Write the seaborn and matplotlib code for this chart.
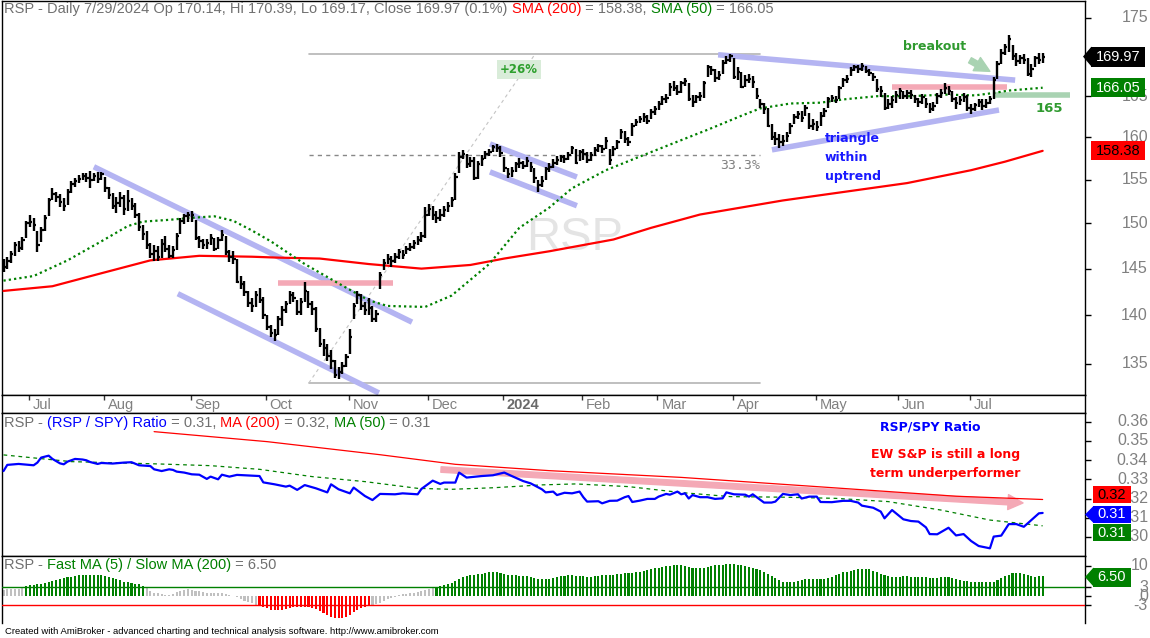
import numpy as np
import pandas as pd
import matplotlib
matplotlib.use("Agg")
import matplotlib.pyplot as plt
import matplotlib.transforms as mtransforms
from matplotlib.patches import Rectangle, Polygon
from matplotlib.ticker import FixedLocator, NullLocator, NullFormatter
from matplotlib.offsetbox import TextArea, HPacker, AnchoredOffsetbox
import seaborn as sns

# ---------------------------------------------------------------- calendar
holidays = ["2023-07-04", "2023-09-04", "2023-11-23", "2023-12-25", "2024-01-01",
            "2024-01-15", "2024-02-19", "2024-03-29", "2024-05-27", "2024-06-19",
            "2024-07-04"]
dates = pd.bdate_range("2023-06-22", "2024-07-29")
dates = dates[~dates.isin(pd.to_datetime(holidays))]

# ---------------------------------------------------------------- RSP daily bars (close / high / low)
close_jun23 = [145.2, 145.8, 146.6, 147.6, 147.3, 148.2, 150.0]
high_jun23 = [146.0, 146.3, 146.9, 147.9, 148.0, 148.5, 150.3]
low_jun23 = [144.6, 145.0, 145.6, 146.4, 146.8, 147.0, 148.4]

close_jul23 = [150.2, 149.8, 147.6, 149.3, 150.6, 152.6, 153.3, 153.0, 152.4, 152.0,
               153.6, 154.5, 154.8, 155.1, 155.4, 155.2, 155.0, 155.4, 155.1, 155.6]
high_jul23 = [150.9, 150.6, 149.2, 149.6, 151.0, 152.9, 154.0, 153.6, 153.3, 152.9,
              153.9, 154.8, 155.2, 155.5, 155.8, 155.8, 156.0, 155.8, 155.9, 155.9]
low_jul23 = [149.6, 149.2, 146.8, 147.9, 149.2, 150.8, 152.6, 152.4, 151.8, 151.4,
             152.1, 153.5, 154.2, 154.6, 154.9, 154.7, 154.0, 154.8, 154.6, 155.0]

close_aug23 = [154.0, 153.2, 152.0, 152.3, 152.9, 151.6, 152.5, 152.0, 151.0, 149.6,
               148.8, 147.6, 146.6, 146.9, 146.3, 147.7, 147.2, 146.4, 147.0, 148.6,
               150.3, 150.8, 151.0]
high_aug23 = [155.3, 154.2, 153.4, 153.0, 153.6, 153.2, 153.8, 152.9, 152.3, 151.2,
              149.8, 149.2, 147.8, 147.6, 147.5, 148.3, 148.6, 147.6, 147.5, 148.9,
              150.6, 151.1, 151.3]
low_aug23 = [153.6, 152.8, 151.6, 151.2, 151.8, 151.0, 151.4, 151.5, 150.6, 149.2,
             148.2, 147.2, 146.2, 145.8, 145.8, 146.2, 146.8, 146.2, 146.2, 147.0,
             148.8, 149.9, 150.2]

close_sep23 = [151.0, 148.4, 148.0, 147.6, 147.8, 148.4, 147.2, 148.2, 148.7, 146.8,
               146.3, 146.0, 143.6, 143.3, 142.5, 141.3, 141.0, 142.2, 141.6, 140.0]
high_sep23 = [151.4, 150.4, 148.6, 148.3, 148.3, 148.8, 148.4, 148.5, 149.3, 148.6,
              147.0, 146.9, 146.1, 144.2, 143.7, 142.6, 141.8, 142.6, 142.9, 141.9]
low_sep23 = [150.2, 148.1, 147.3, 147.1, 147.2, 147.6, 146.9, 147.1, 148.0, 146.5,
             145.7, 145.5, 143.4, 142.8, 142.1, 140.9, 140.4, 140.9, 141.3, 139.6]

close_oct23 = [138.8, 138.2, 138.0, 139.6, 140.6, 141.2, 142.2, 141.8, 140.4, 141.4,
               142.6, 141.2, 140.7, 138.6, 137.0, 136.6, 135.8, 135.3, 133.9, 134.2,
               134.8, 135.7]
high_oct23 = [140.0, 139.0, 138.6, 139.9, 141.0, 141.5, 142.6, 142.5, 141.6, 141.8,
              143.6, 142.6, 141.5, 140.9, 138.7, 137.6, 137.0, 136.4, 135.4, 134.7,
              135.2, 136.0]
low_oct23 = [138.5, 137.8, 137.3, 138.0, 138.9, 140.3, 141.2, 141.4, 140.0, 140.0,
             141.4, 140.8, 140.1, 138.3, 136.7, 135.8, 135.3, 134.5, 133.6, 133.5,
             134.0, 134.7]

close_nov23 = [137.8, 141.0, 142.2, 141.0, 140.6, 140.8, 139.6, 140.2, 144.3, 145.6,
               146.0, 145.8, 146.3, 146.8, 146.5, 147.2, 147.4, 147.8, 148.2, 148.6,
               151.0]
high_nov23 = [138.6, 141.3, 142.6, 142.3, 141.4, 141.8, 141.0, 140.6, 144.6, 146.0,
              146.6, 146.4, 146.7, 147.1, 147.0, 147.5, 147.8, 148.1, 148.6, 149.0,
              151.8]
low_nov23 = [136.0, 139.6, 141.2, 140.6, 140.0, 140.1, 139.3, 139.3, 142.8, 144.8,
             145.5, 145.2, 145.6, 146.1, 146.1, 146.6, 146.9, 147.2, 147.6, 147.9,
             148.4]

close_dec23 = [151.6, 151.0, 150.6, 150.9, 151.5, 152.0, 152.6, 155.3, 157.6, 158.0,
               156.8, 157.2, 155.2, 156.8, 157.4, 158.0, 158.3, 158.8, 158.7, 158.1]
high_dec23 = [152.2, 152.0, 151.4, 151.6, 152.0, 152.4, 153.0, 155.8, 158.2, 158.5,
              158.0, 157.6, 157.6, 157.2, 157.9, 158.4, 158.6, 159.1, 159.2, 159.0]
low_dec23 = [150.8, 150.4, 150.1, 150.3, 150.7, 151.3, 151.9, 152.6, 155.8, 157.4,
             156.4, 156.5, 154.9, 155.1, 156.6, 157.4, 157.8, 158.2, 158.3, 157.6]

close_jan24 = [156.4, 155.6, 156.0, 156.8, 157.0, 156.6, 157.2, 156.5, 155.2, 154.4,
               154.8, 156.2, 156.5, 157.0, 157.3, 157.6, 157.4, 157.9, 158.7, 157.0,
               158.2]
high_jan24 = [157.6, 156.4, 156.5, 157.1, 157.5, 157.2, 157.6, 157.1, 156.3, 155.0,
              155.4, 156.5, 157.0, 157.4, 157.8, 157.9, 157.9, 158.3, 159.0, 158.6,
              158.5]
low_jan24 = [155.9, 155.2, 155.3, 155.9, 156.4, 156.2, 156.5, 155.9, 154.6, 153.6,
             154.1, 155.0, 155.9, 156.3, 156.7, 157.1, 156.9, 157.3, 158.0, 156.8,
             157.2]

close_feb24 = [158.0, 157.3, 157.9, 158.5, 158.9, 158.6, 159.6, 157.3, 158.6, 159.4,
               160.6, 159.8, 159.4, 161.4, 161.9, 162.2, 162.5, 162.0, 163.0, 163.4]
high_feb24 = [158.6, 158.3, 158.2, 158.8, 159.2, 159.1, 160.0, 158.6, 158.9, 159.7,
              161.0, 160.7, 160.0, 161.7, 162.2, 162.6, 162.9, 162.7, 163.4, 163.8]
low_feb24 = [157.3, 156.9, 157.2, 157.8, 158.3, 158.1, 158.6, 156.7, 157.8, 158.6,
             159.8, 159.3, 158.9, 160.2, 161.3, 161.7, 161.9, 161.6, 162.2, 162.7]

close_mar24 = [164.0, 164.6, 164.8, 166.2, 166.0, 165.5, 166.6, 166.9, 164.7, 164.3,
               164.9, 165.0, 166.6, 168.6, 168.3, 167.3, 167.6, 169.2, 169.6, 170.0]
high_mar24 = [164.4, 165.0, 165.3, 166.6, 166.9, 166.4, 166.9, 167.3, 166.7, 165.2,
              165.2, 165.5, 166.9, 168.9, 168.8, 168.4, 168.1, 169.6, 170.0, 170.3]
low_mar24 = [163.3, 163.9, 164.2, 165.0, 165.6, 165.1, 165.4, 166.3, 164.4, 163.7,
             164.1, 164.4, 164.8, 167.4, 167.6, 166.8, 167.0, 167.8, 169.0, 169.3]

close_apr24 = [167.4, 168.0, 166.2, 167.0, 167.2, 166.8, 165.0, 164.0, 163.4, 161.4,
               160.0, 159.8, 159.4, 159.6, 160.2, 161.3, 162.4, 162.8, 162.3, 163.5,
               161.4, 161.6]
high_apr24 = [169.8, 168.6, 168.0, 167.6, 167.8, 167.5, 166.0, 164.6, 164.2, 163.6,
              161.6, 160.6, 160.4, 160.3, 160.6, 161.7, 162.8, 163.2, 163.2, 163.9,
              162.9, 162.2]
low_apr24 = [167.1, 167.0, 166.0, 166.2, 166.6, 166.0, 164.6, 163.5, 162.8, 161.2,
             159.7, 159.1, 158.7, 158.9, 159.4, 160.4, 161.6, 162.2, 161.9, 162.6,
             161.0, 160.9]

close_may24 = [161.2, 162.6, 163.2, 164.6, 164.8, 164.5, 166.0, 167.0, 167.2, 168.3,
               168.6, 168.4, 168.8, 168.2, 167.9, 167.4, 165.9, 165.6, 163.6, 164.0,
               164.5, 165.2]
high_may24 = [162.0, 163.0, 163.6, 164.9, 165.1, 165.0, 166.3, 167.3, 167.6, 168.6,
              168.9, 168.9, 169.2, 168.8, 168.4, 167.9, 167.2, 166.3, 165.4, 164.6,
              165.0, 165.7]
low_may24 = [160.7, 161.3, 162.4, 163.6, 164.3, 164.1, 164.6, 166.2, 166.7, 167.5,
             168.1, 167.9, 168.1, 167.9, 167.5, 166.9, 165.5, 164.9, 163.3, 163.4,
             163.6, 164.2]

close_jun24 = [165.6, 165.0, 165.4, 165.1, 164.6, 164.3, 164.9, 164.0, 163.4, 163.8,
               165.0, 165.4, 166.0, 165.6, 164.7, 164.2, 164.5, 164.9, 163.6]
high_jun24 = [166.0, 165.7, 165.8, 165.8, 165.2, 164.8, 165.3, 164.8, 164.1, 164.3,
              165.4, 165.9, 166.6, 166.3, 165.6, 164.9, 165.0, 165.4, 165.1]
low_jun24 = [164.6, 164.6, 164.7, 164.7, 164.1, 163.7, 164.0, 163.5, 162.9, 163.2,
             164.0, 164.8, 165.3, 165.1, 164.3, 163.4, 163.9, 164.3, 163.2]

close_jul24 = [163.4, 163.9, 164.3, 163.8, 164.2, 164.6, 167.0, 169.0, 170.4, 171.2,
               172.2, 170.0, 169.4, 169.8, 169.6, 167.8, 168.4, 169.8, 169.6, 169.97]
high_jul24 = [164.0, 164.2, 164.6, 164.6, 164.6, 165.0, 167.4, 169.4, 171.0, 171.6,
              172.7, 171.5, 170.4, 170.2, 170.3, 169.8, 169.0, 170.1, 170.4, 170.39]
low_jul24 = [162.8, 163.2, 163.7, 163.3, 163.5, 164.0, 164.6, 167.2, 169.0, 170.2,
             170.5, 169.6, 168.8, 169.0, 169.0, 167.5, 167.4, 168.6, 169.0, 169.17]

closes = (close_jun23 + close_jul23 + close_aug23 + close_sep23 + close_oct23 + close_nov23 +
          close_dec23 + close_jan24 + close_feb24 + close_mar24 + close_apr24 + close_may24 +
          close_jun24 + close_jul24)
highs = (high_jun23 + high_jul23 + high_aug23 + high_sep23 + high_oct23 + high_nov23 +
         high_dec23 + high_jan24 + high_feb24 + high_mar24 + high_apr24 + high_may24 +
         high_jun24 + high_jul24)
lows = (low_jun23 + low_jul23 + low_aug23 + low_sep23 + low_oct23 + low_nov23 +
        low_dec23 + low_jan24 + low_feb24 + low_mar24 + low_apr24 + low_may24 +
        low_jun24 + low_jul24)

# ---------------------------------------------------------------- moving averages (bar number, value)
sma200_bar = [0, 13, 26, 39, 52, 66, 73, 84, 97, 111, 124, 133, 145, 162, 172, 185, 207, 240, 257, 266, 276]
sma200_val = [142.6, 143.1, 144.5, 145.9, 146.4, 146.3, 146.2, 146.1, 145.5, 145.0, 145.4,
              146.1, 146.9, 148.2, 149.5, 151.0, 152.6, 154.6, 156.1, 157.1, 158.38]
sma50_bar = [0, 8, 17, 26, 33, 37, 44, 49, 56, 61, 66, 71, 80, 89, 97, 102, 112, 119, 129,
             137, 145, 151, 160, 169, 178, 187, 196, 201, 209, 217, 223, 232, 241, 250, 258,
             263, 267, 276]
sma50_val = [143.7, 144.2, 145.9, 148.0, 149.7, 150.2, 150.4, 150.6, 150.8, 150.3, 149.2,
             148.0, 145.5, 143.4, 141.6, 141.0, 140.9, 142.1, 145.5, 149.5, 151.8, 154.0,
             156.1, 157.7, 159.3, 160.9, 162.6, 163.5, 164.1, 164.2, 164.6, 165.0, 165.0,
             165.2, 165.1, 165.4, 165.7, 166.05]

# ---------------------------------------------------------------- RSP / SPY ratio (bar number, value)
ratio_bar = [0, 1, 4, 8, 9, 10, 12, 13, 15, 16, 17, 19, 21, 22, 23, 25, 26, 29, 32, 34, 36, 39,
             40, 42, 44, 45, 46, 48, 50, 52, 54, 55, 57, 58, 60, 62, 68, 69, 72, 75, 76, 78,
             80, 83, 86, 87, 89, 90, 92, 93, 96, 98, 100, 104, 106, 110, 111, 114, 116, 117,
             120, 121, 123, 127, 130, 133, 135, 138, 140, 143, 144, 146, 147, 149, 151, 153,
             154, 155, 158, 159, 161, 163, 165, 166, 167, 169, 171, 173, 174, 176, 177, 179,
             180, 181, 182, 183, 185, 187, 189, 191, 192, 194, 197, 198, 199, 202, 204, 205,
             207, 209, 211, 212, 214, 216, 217, 220, 223, 225, 227, 228, 231, 233, 234, 236,
             239, 241, 243, 245, 246, 248, 251, 253, 255, 257, 259, 262, 263, 265, 267, 269,
             271, 273, 275, 276]
ratio_val = [0.3343, 0.3375, 0.3380, 0.3373, 0.3387, 0.3413, 0.3423, 0.3406, 0.3383, 0.3378,
             0.3392, 0.3406, 0.3403, 0.3399, 0.3390, 0.3380, 0.3385, 0.3382, 0.3387, 0.3389,
             0.3373, 0.3369, 0.3352, 0.3343, 0.3352, 0.3349, 0.3340, 0.3335, 0.3326, 0.3324,
             0.3302, 0.3314, 0.3300, 0.3324, 0.3314, 0.3323, 0.3317, 0.3284, 0.3274, 0.3262,
             0.3267, 0.3245, 0.3270, 0.3253, 0.3232, 0.3274, 0.3248, 0.3241, 0.3227, 0.3257,
             0.3213, 0.3192, 0.3224, 0.3222, 0.3227, 0.3222, 0.3250, 0.3293, 0.3276, 0.3283,
             0.3283, 0.3335, 0.3309, 0.3317, 0.3321, 0.3335, 0.3317, 0.3291, 0.3279, 0.3248,
             0.3232, 0.3236, 0.3218, 0.3230, 0.3227, 0.3236, 0.3207, 0.3184, 0.3186, 0.3175,
             0.3188, 0.3189, 0.3207, 0.3213, 0.3182, 0.3189, 0.3198, 0.3198, 0.3210, 0.3224,
             0.3220, 0.3236, 0.3222, 0.3227, 0.3200, 0.3218, 0.3207, 0.3207, 0.3198, 0.3201,
             0.3232, 0.3222, 0.3220, 0.3210, 0.3222, 0.3179, 0.3179, 0.3184, 0.3224, 0.3218,
             0.3222, 0.3200, 0.3210, 0.3210, 0.3182, 0.3181, 0.3188, 0.3188, 0.3179, 0.3163,
             0.3152, 0.3132, 0.3097, 0.3140, 0.3092, 0.3083, 0.3080, 0.3050, 0.3015, 0.3014,
             0.3048, 0.3008, 0.3015, 0.2979, 0.2953, 0.2941, 0.3002, 0.3007, 0.3067, 0.3067,
             0.3053, 0.3088, 0.3123, 0.3125]
ratio_ma200_bar = [40, 70, 100, 120, 145, 180, 216, 253, 276]
ratio_ma200_val = [0.3548, 0.3496, 0.3428, 0.3378, 0.3345, 0.3310, 0.3262, 0.3212, 0.3195]
ratio_ma50_bar = [0, 18, 41, 55, 68, 82, 96, 110, 119, 130, 143, 152, 166, 180, 193, 207, 221,
                  235, 249, 262, 276]
ratio_ma50_val = [0.3427, 0.3392, 0.3380, 0.3371, 0.3352, 0.3314, 0.3288, 0.3253, 0.3248,
                  0.3256, 0.3271, 0.3276, 0.3262, 0.3231, 0.3210, 0.3207, 0.3201, 0.3184,
                  0.3140, 0.3088, 0.3058]

# ---------------------------------------------------------------- Fast MA(5) / Slow MA(200), % above
fast_slow = [2.2, 2.3, 2.3, 2.4, 2.5, 2.6, 3.4, 3.6, 3.8, 4.0,
             4.1, 4.2, 4.5, 4.9, 5.4, 5.8, 6.0, 6.2, 6.4, 6.6,
             6.8, 6.9, 7.0, 7.0, 6.9, 6.9, 6.8, 6.6, 6.3, 6.0,
             5.6, 5.2, 4.8, 4.5, 4.3, 4.1, 3.9, 3.4, 2.6, 1.8,
             1.2, 0.9, 0.6, 0.5, 0.4, 0.7, 1.3, 1.8, 2.2, 2.3,
             2.2, 1.8, 1.6, 1.4, 1.2, 1.2, 1.0, 1.0, 1.1, 0.8,
             0.4, 0.0, -0.4, -1.0, -1.5, -1.9, -2.3, -2.8, -3.2, -3.6,
             -4.0, -4.4, -4.6, -4.6, -4.4, -4.1, -3.8, -3.5, -3.4, -3.4,
             -3.4, -3.5, -3.8, -4.2, -4.8, -5.5, -6.2, -6.8, -7.1, -7.3,
             -7.2, -6.8, -6.2, -5.3, -4.5, -3.8, -3.4, -3.2, -2.9, -2.4,
             -2.2, -1.5, -0.9, -0.5, -0.1, 0.3, 0.6, 0.8, 1.0, 1.2,
             1.4, 1.6, 2.0, 2.4, 2.8, 3.1, 3.4, 3.7, 4.0, 4.4,
             5.0, 5.6, 6.2, 6.7, 7.0, 7.1, 7.2, 7.4, 7.6, 7.8,
             8.0, 7.9, 7.7, 7.4, 7.1, 6.9, 6.8, 6.6, 6.5, 6.5,
             6.3, 6.0, 5.7, 5.6, 5.6, 5.7, 5.9, 6.3, 6.5, 6.7,
             6.9, 6.9, 6.7, 6.6, 6.5, 6.4, 6.4, 6.5, 6.6, 6.8,
             7.1, 7.0, 7.0, 7.2, 7.4, 7.5, 7.6, 7.7, 7.9, 8.1,
             8.4, 8.7, 9.0, 9.2, 9.4, 9.6, 9.8, 10.0, 10.1, 10.2,
             10.1, 10.0, 9.6, 9.3, 9.1, 9.1, 9.3, 9.6, 9.9, 10.1,
             10.2, 10.3, 10.5, 10.5, 10.5, 10.3, 10.2, 9.8, 9.6, 9.3,
             9.0, 8.6, 8.1, 7.4, 6.6, 5.9, 5.2, 4.8, 4.7, 4.6,
             4.7, 4.9, 5.2, 5.5, 5.7, 5.6, 5.5, 5.5, 5.7, 6.0,
             6.4, 7.0, 7.4, 7.8, 8.1, 8.4, 8.6, 8.8, 9.0, 8.9,
             8.8, 8.4, 7.9, 7.3, 6.9, 6.6, 6.4, 6.4, 6.4, 6.5,
             6.5, 6.4, 6.3, 6.3, 6.2, 6.2, 6.0, 6.0, 6.1, 6.3,
             6.4, 6.3, 6.0, 5.6, 5.3, 5.1, 4.9, 4.7, 4.7, 4.7,
             4.6, 4.6, 4.6, 4.8, 5.3, 6.0, 6.6, 7.1, 7.5, 7.6,
             7.5, 7.3, 6.9, 6.5, 6.3, 6.6, 6.5]

price_ticks = [135, 140, 145, 150, 155, 160, 165, 170, 175]
price_tick_text = ["135", "140", "145", "150", "155", "160", "165", "", "175"]  # 170 sits under the close tag
ratio_ticks = [0.30, 0.31, 0.32, 0.33, 0.34, 0.35, 0.36]
osc_ticks = [-3, 0, 3, 10]

assert len(dates) == len(closes) == len(highs) == len(lows) == len(fast_slow)

# ---------------------------------------------------------------- style
sns.set_theme(style="white")
plt.rcParams["font.family"] = ["Liberation Sans", "DejaVu Sans"]
plt.rcParams["axes.linewidth"] = 1.0
plt.rcParams["axes.edgecolor"] = "black"

GRAY_TXT = "#707070"
AX_TXT = "#808080"
GREEN = "#008000"
RED = "#ff0000"
BLUE = "#0000ff"
LAV = "#b4b4f2"
PINK = "#f4a9b6"
PALEGREEN = "#a9d3b2"
ANN_GREEN = "#2f9a2f"
ANN_FONT = "DejaVu Sans"

W, H = 1150, 638
fig = plt.figure(figsize=(W / 100, H / 100), dpi=100)
fig.patch.set_facecolor("white")
idt = mtransforms.IdentityTransform()


def px_axes(x0, y0, x1, y1):
    return fig.add_axes([x0 / W, 1 - y1 / H, (x1 - x0) / W, (y1 - y0) / H])


ax1 = px_axes(2, 1, 1085, 395)
axb = px_axes(2, 395, 1085, 413)
ax2 = px_axes(2, 413, 1085, 556)
ax3 = px_axes(2, 556, 1085, 623)

n = len(closes)
xs = np.arange(n)
XLO = -0.4
XHI = XLO + 1083 / 3.765
for a in (ax1, axb, ax2, ax3):
    a.set_xlim(XLO, XHI)
    a.set_facecolor("white")
    a.set_xticks([])
    a.tick_params(axis="x", length=0)
    for s in a.spines.values():
        s.set_color("black")
        s.set_linewidth(1.0)

# ---------------------------------------------------------------- price panel
ax1.set_yscale("log")
ax1.set_ylim(131.9, 177.2)
ax1.yaxis.set_major_locator(FixedLocator(price_ticks))
ax1.yaxis.set_minor_locator(NullLocator())
ax1.yaxis.set_major_formatter(NullFormatter())
ax1.yaxis.set_minor_formatter(NullFormatter())
ax1.yaxis.tick_right()
ax1.tick_params(axis="y", which="major", direction="out", length=4, width=1,
                color="black", labelright=False, labelleft=False)

ax1.text(151.8, 148.4, "RSP", fontsize=34, color="#e4e4e4", ha="center", va="center", zorder=0.5)

# measuring lines (+26% / 33.3%)
ax1.plot([81.1, 200.9], [170.3, 170.3], color="#b4b4b4", lw=1.2, zorder=1)
ax1.plot([81.1, 200.9], [133.1, 133.1], color="#b4b4b4", lw=1.2, zorder=1)
ax1.plot([81.1, 200.9], [157.9, 157.9], color="#888888", lw=1.0, dashes=(3, 3), zorder=1)
ax1.plot([81.1, 141.2], [133.1, 170.3], color="#c4c4c4", lw=0.8, dashes=(3, 3), zorder=1)
ax1.text(136.9, 168.3, "+26%", fontsize=8.5, fontweight="bold", family=ANN_FONT, color="#2ea02e",
         ha="center", va="center", zorder=2,
         bbox=dict(boxstyle="square,pad=0.25", fc="#d9ecd9", ec="none"))
ax1.text(195.6, 156.6, "33.3%", fontsize=9.5, family="DejaVu Sans Mono", color="#808080",
         ha="center", va="center", zorder=2)

# trend lines
for (xa, ya), (xb, yb) in [((24.0, 156.5), (108.5, 139.3)), ((46.3, 142.3), (99.7, 132.1)),
                           ((129.2, 159.2), (152.3, 155.3)), ((129.2, 155.9), (152.3, 152.0)),
                           ((189.8, 170.2), (268.7, 167.0)), ((204.1, 158.5), (264.4, 163.3))]:
    ax1.plot([xa, xb], [ya, yb], color=LAV, lw=4, solid_capstyle="butt", zorder=2)
ax1.plot([72.9, 103.5], [143.5, 143.5], color=PINK, lw=4, solid_capstyle="butt", zorder=2)
ax1.plot([236.0, 266.5], [166.2, 166.2], color=PINK, lw=4, solid_capstyle="butt", zorder=2)
ax1.plot([263.2, 283.3], [165.2, 165.2], color=PALEGREEN, lw=4, solid_capstyle="butt", zorder=2)

# moving averages
sns.lineplot(x=sma200_bar, y=sma200_val, ax=ax1, color=RED, linewidth=1.6, zorder=3)
sns.lineplot(x=sma50_bar, y=sma50_val, ax=ax1, color=GREEN, linewidth=1.6, zorder=3)
ax1.lines[-1].set_linestyle((0, (1.0, 1.4)))

# price bars
ax1.vlines(xs, lows, highs, color="black", lw=1.7, zorder=4)
ax1.hlines(closes, xs, xs + 0.65, color="black", lw=1.6, zorder=4)

# annotations
ax1.text(247.4, 171.2, "breakout", fontsize=9, fontweight="bold", family=ANN_FONT,
         color=ANN_GREEN, ha="center", va="center", zorder=5)
ax1.annotate("", xy=(262.0, 168.1), xytext=(256.7, 169.5),
             arrowprops=dict(arrowstyle="simple,head_length=0.9,head_width=0.9,tail_width=0.35",
                             color=PALEGREEN, shrinkA=0, shrinkB=0, mutation_scale=12), zorder=5)
ax1.text(277.7, 163.5, "165", fontsize=9.5, fontweight="bold", family=ANN_FONT,
         color=ANN_GREEN, ha="center", va="center", zorder=5)
for txt, yv in [("triangle", 159.9), ("within", 157.6), ("uptrend", 155.4)]:
    ax1.text(218.2, yv, txt, fontsize=9, fontweight="bold", family=ANN_FONT,
             color="#1a1aff", ha="left", va="center", zorder=5)

ax1.set_xlabel("")
ax1.set_ylabel("")

# ---------------------------------------------------------------- month band
axb.set_ylim(0, 1)
axb.set_yticks([])
mper = dates.to_period("M")
starts = [i for i in range(1, n) if mper[i] != mper[i - 1]]
for i in starts:
    d = dates[i]
    axb.vlines(i - 0.3, 0.72, 1.0, color="#333333", lw=1)
    if d.month == 1:
        axb.text(i + 0.7, 0.45, str(d.year), fontsize=10.5, fontweight="bold",
                 color="#6a6a6a", ha="left", va="center")
    else:
        axb.text(i + 0.7, 0.45, d.strftime("%b"), fontsize=10.5, color=AX_TXT,
                 ha="left", va="center")

# ---------------------------------------------------------------- ratio panel
ax2.set_ylim(0.2901, 0.3645)
ax2.yaxis.set_major_locator(FixedLocator(ratio_ticks))
ax2.yaxis.set_major_formatter(NullFormatter())
ax2.yaxis.tick_right()
ax2.tick_params(axis="y", direction="out", length=4, width=1, color="black",
                labelright=False, labelleft=False)
ax2.annotate("", xy=(270.8, 0.3177), xytext=(116.2, 0.3351),
             arrowprops=dict(arrowstyle="simple,head_length=0.9,head_width=0.9,tail_width=0.33",
                             color=PINK, shrinkA=0, shrinkB=0, mutation_scale=12), zorder=2)
sns.lineplot(x=ratio_ma200_bar, y=ratio_ma200_val, ax=ax2, color=RED, linewidth=0.9, zorder=3)
sns.lineplot(x=ratio_ma50_bar, y=ratio_ma50_val, ax=ax2, color=GREEN, linewidth=0.9, zorder=3)
ax2.lines[-1].set_linestyle((0, (3, 3)))
sns.lineplot(x=ratio_bar, y=ratio_val, ax=ax2, color=BLUE, linewidth=1.6, zorder=4)
ax2.text(246.1, 0.3572, "RSP/SPY Ratio", fontsize=9, fontweight="bold", family=ANN_FONT,
         color=BLUE, ha="center", va="center")
ax2.text(250.1, 0.3427, "EW S&P is still a long", fontsize=9, fontweight="bold",
         family=ANN_FONT, color=RED, ha="center", va="center")
ax2.text(250.1, 0.3328, "term underperformer", fontsize=9, fontweight="bold",
         family=ANN_FONT, color=RED, ha="center", va="center")
ax2.set_xlabel("")
ax2.set_ylabel("")

# ---------------------------------------------------------------- oscillator panel
ax3.set_ylim(-8.8, 13.2)
ax3.yaxis.set_major_locator(FixedLocator(osc_ticks))
ax3.yaxis.set_major_formatter(NullFormatter())
ax3.yaxis.tick_right()
ax3.tick_params(axis="y", direction="out", length=4, width=1, color="black",
                labelright=False, labelleft=False)
bar_colors = [GREEN if v >= 3 else (RED if v <= -3 else "#c0c0c0") for v in fast_slow]
ax3.bar(xs, fast_slow, width=0.55, color=bar_colors, linewidth=0, zorder=2)
ax3.axhline(3, color=GREEN, lw=1, zorder=3)
ax3.axhline(-3, color=RED, lw=1, zorder=3)
ax3.spines["bottom"].set_visible(False)


# ---------------------------------------------------------------- right axis labels
def right_labels(ax, vals, texts):
    tr = mtransforms.blended_transform_factory(idt, ax.transData)
    for v, t in zip(vals, texts):
        if t:
            ax.text(1148, v, t, transform=tr, ha="right", va="center",
                    color=AX_TXT, fontsize=11.5, clip_on=False)


right_labels(ax1, price_ticks, price_tick_text)
right_labels(ax2, ratio_ticks, ["{:.2f}".format(v) for v in ratio_ticks])
right_labels(ax3, osc_ticks, [str(v) for v in osc_ticks])


def tag(ax, yval, text, bg, fg, x0, x1, h, tip=None, fs=10.5):
    y = ax.transData.transform((0, yval))[1]
    fig.add_artist(Rectangle((x0, y - h / 2), x1 - x0, h, transform=idt,
                             facecolor=bg, edgecolor="none"))
    if tip is not None:
        fig.add_artist(Polygon([(tip, y), (x0 + 0.5, y + h / 2), (x0 + 0.5, y - h / 2)],
                               closed=True, transform=idt, facecolor=bg, edgecolor="none"))
    fig.text((x0 + x1) / 2, y, text, transform=idt, ha="center", va="center",
             color=fg, fontsize=fs)


tag(ax1, 169.97, "169.97", "black", "white", 1091, 1145, 20, tip=1083)
tag(ax1, 166.05, "166.05", GREEN, "white", 1091, 1145, 19)
tag(ax1, 158.38, "158.38", RED, "black", 1091, 1145, 19)
tag(ax2, 0.3219, "0.32", RED, "black", 1093, 1131, 17)
tag(ax2, 0.3117, "0.31", BLUE, "white", 1093, 1131, 17, tip=1085)
tag(ax2, 0.3023, "0.31", GREEN, "white", 1093, 1131, 17)
tag(ax3, 6.3, "6.50", GREEN, "white", 1093, 1131, 19, tip=1085)


# ---------------------------------------------------------------- panel titles
def title(ax, parts, x_px, top_px):
    boxes = [TextArea(t, textprops=dict(color=c, fontsize=10.5, family="Liberation Sans"))
             for t, c in parts]
    pack = HPacker(children=boxes, align="baseline", pad=0, sep=0)
    ao = AnchoredOffsetbox(loc="upper left", child=pack, pad=0, borderpad=0, frameon=False,
                           bbox_to_anchor=(x_px, H - top_px), bbox_transform=idt)
    ao.set_clip_on(False)
    ax.add_artist(ao)


title(ax1, [("RSP - Daily 7/29/2024 Op 170.14, Hi 170.39, Lo 169.17, Close 169.97 (0.1%) ", GRAY_TXT),
            ("SMA (200)", RED), (" = 158.38, ", GRAY_TXT), ("SMA (50)", GREEN),
            (" = 166.05", GRAY_TXT)], 4, 2)
title(ax2, [("RSP - ", GRAY_TXT), ("(RSP / SPY) Ratio", BLUE), (" = 0.31, ", GRAY_TXT),
            ("MA (200)", RED), (" = 0.32, ", GRAY_TXT), ("MA (50)", GREEN),
            (" = 0.31", GRAY_TXT)], 4, 416)
title(ax3, [("RSP - ", GRAY_TXT), ("Fast MA (5) / Slow MA (200)", GREEN),
            (" = 6.50", GRAY_TXT)], 4, 558)

fig.text(5 / W, (H - 632) / H,
         "Created with AmiBroker - advanced charting and technical analysis software. http://www.amibroker.com",
         fontsize=6.8, color="black", ha="left", va="center")

fig.savefig("out.png", dpi=100, facecolor="white")
